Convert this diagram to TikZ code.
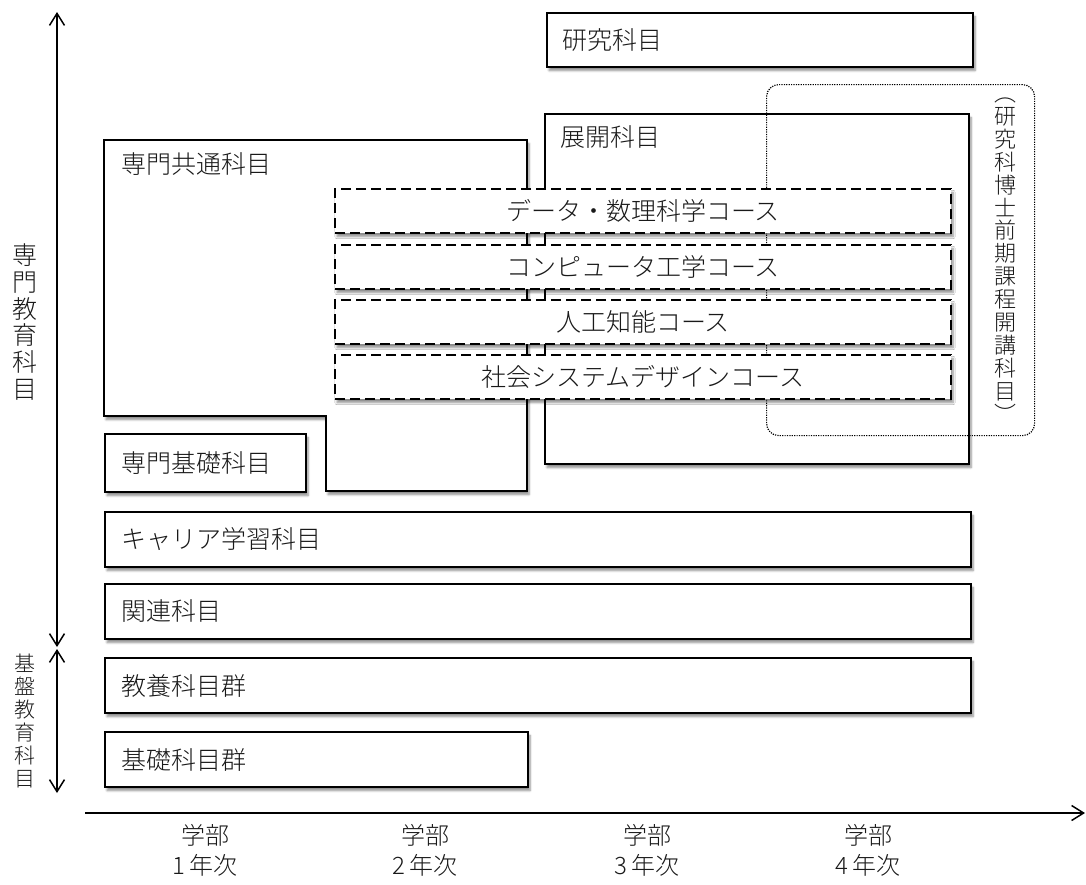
\documentclass[tikz,border=0pt]{standalone}
\usepackage{fontspec}
\setmainfont{Noto Sans CJK JP Light}
\usetikzlibrary{arrows.meta,shadows.blur}
\begin{document}
\begin{tikzpicture}[x=1pt,y=-1pt,
  shdw/.style={blur shadow={shadow xshift=2pt, shadow yshift=-3.5pt, shadow blur steps=6, shadow opacity=45}},
  box/.style={draw, line width=2pt, fill=white, rectangle, anchor=north west, inner sep=0pt, shdw},
  course/.style={draw, line width=2pt, dash pattern=on 10pt off 5pt, fill=white, rectangle, anchor=north west, inner sep=0pt, minimum width=616pt, minimum height=44pt, shdw},
  lbl/.style={font=\fontsize{25}{27}\selectfont, text=black!90, inner sep=0pt},
  vlbl/.style={font=\fontsize{25}{26.7}\selectfont, text=black!90, inner sep=0pt, align=center},
  arr/.style={line width=1.5pt, {Straight Barb[length=12pt,width=15pt]}-{Straight Barb[length=12pt,width=15pt]}},
  axarr/.style={line width=1.5pt, -{Straight Barb[length=12pt,width=15pt]}},
]
\useasboundingbox (0,0) rectangle (1086,884);

% research subjects
\node[box, minimum width=426pt, minimum height=54pt] (kenkyu) at (546,12) {};
\node[lbl, anchor=west] (kenkyuT) at ([xshift=16pt]kenkyu.west) {研究科目};

% common specialised subjects (L-shape)
\coordinate (kyotsu) at (104,140);
\draw[line width=2pt, fill=white, shdw] (kyotsu) -- (527,140) -- (527,491) -- (326,491) -- (326,416) -- (104,416) -- cycle;
\node[lbl, anchor=west] (kyotsuT) at (121,164) {専門共通科目};

% advanced subjects
\node[box, minimum width=424pt, minimum height=350pt] (tenkai) at (544,113) {};
\node[lbl, anchor=west] (tenkaiT) at (560,137) {展開科目};

% graduate course subjects (dotted)
\node[draw, line width=1.2pt, dash pattern=on 1.2pt off 1.2pt, rounded corners=12pt, rectangle, anchor=north west, inner sep=0pt, minimum width=268pt, minimum height=351pt] (grad) at (766,84) {};
\node[font=\fontsize{22}{22.9}\selectfont, text=black!90, inner sep=0pt, align=center] (gradT) at (1005,260)
  {︵\\研\\究\\科\\博\\士\\前\\期\\課\\程\\開\\講\\科\\目\\︶};

% courses
\node[course] (c1) at (334,188) {};
\node[lbl] at (c1.center) {データ・数理科学コース};
\node[course] (c2) at (334,244) {};
\node[lbl] at (c2.center) {コンピュータ工学コース};
\node[course] (c3) at (334,299) {};
\node[lbl] at (c3.center) {人工知能コース};
\node[course] (c4) at (334,354) {};
\node[lbl] at (c4.center) {社会システムデザインコース};

% basic specialised
\node[box, minimum width=201pt, minimum height=58pt] (senkiso) at (104,433) {};
\node[lbl, anchor=west] at ([xshift=17pt]senkiso.west) {専門基礎科目};

\node[box, minimum width=866pt, minimum height=55pt] (career) at (104,511) {};
\node[lbl, anchor=west] at ([xshift=17pt]career.west) {キャリア学習科目};

\node[box, minimum width=866pt, minimum height=55pt] (kanren) at (104,583) {};
\node[lbl, anchor=west] at ([xshift=17pt]kanren.west) {関連科目};

\node[box, minimum width=866pt, minimum height=55pt] (kyoyo) at (104,657) {};
\node[lbl, anchor=west] at ([xshift=17pt]kyoyo.west) {教養科目群};

\node[box, minimum width=423pt, minimum height=55pt] (kiso) at (104,731) {};
\node[lbl, anchor=west] at ([xshift=17pt]kiso.west) {基礎科目群};

% left arrows
\coordinate (v0) at (57,12);
\coordinate (v1) at (57,647);
\coordinate (v2) at (57,649);
\coordinate (v3) at (57,793);
\draw[arr] (v0) -- (v1);
\draw[arr] (v2) -- (v3);
\node[vlbl] (senmonL) at (25,322) {専\\門\\教\\育\\科\\目};
\node[vlbl, font=\fontsize{21}{23}\selectfont] (kibanL) at (25,721) {基\\盤\\教\\育\\科\\目};

% axis
\coordinate (ax0) at (85,813);
\coordinate (ax1) at (1085,813);
\draw[axarr] (ax0) -- (ax1);
\foreach \n/\x in {1/205,2/425,3/647,4/868}{
  \node[lbl, font=\fontsize{24}{30}\selectfont, align=center, anchor=north] (yr\n) at (\x,824) {学部\\\n\,年次};
}
\end{tikzpicture}
\end{document}
